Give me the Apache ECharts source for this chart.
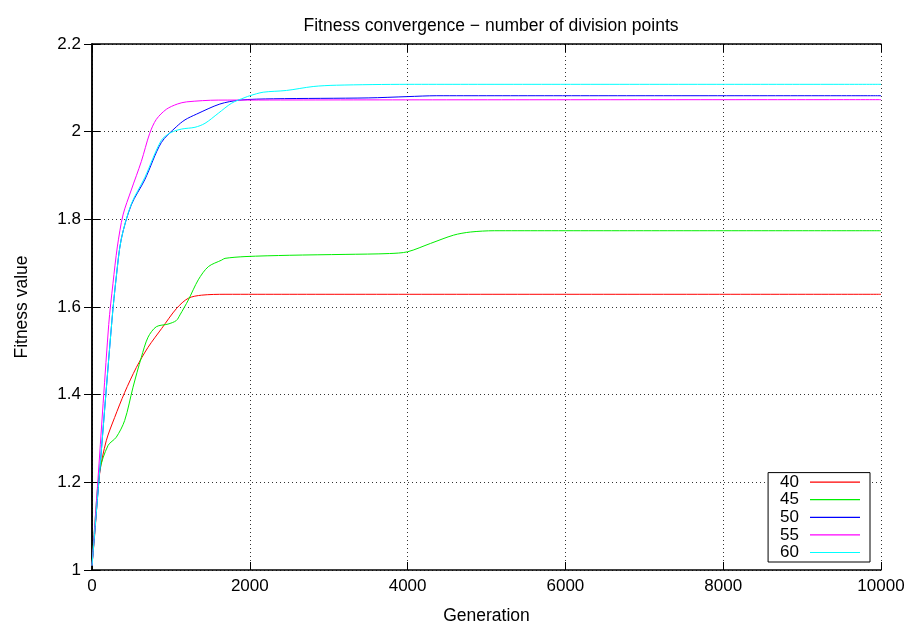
<!DOCTYPE html>
<html>
<head>
<meta charset="utf-8">
<script src="https://cdn.jsdelivr.net/npm/echarts@6/dist/echarts.min.js"></script>
<style>html,body{margin:0;padding:0;background:#fff}#c{width:911px;height:623px}</style>
</head>
<body>
<div id="c"></div>
<script>
var seriesNames = ['40', '45', '50', '55', '60'];
var xTicks = [0, 2000, 4000, 6000, 8000, 10000];
var yTicks = [1, 1.2, 1.4, 1.6, 1.8, 2, 2.2];

var gen40 = [0, 34, 97, 181, 287, 414, 562, 710, 883, 1073, 1221, 1390, 1686, 2500, 10000];
var fit40 = [1.01, 1.08, 1.22, 1.295, 1.348, 1.405, 1.462, 1.508, 1.551, 1.597, 1.620, 1.627, 1.629, 1.629, 1.629];

var gen45 = [0, 34, 97, 203, 308, 414, 520, 625, 710, 815, 963, 1068, 1115, 1221, 1347, 1474, 1643, 1686, 1939, 2500, 3207, 3772, 4000, 4290, 4584, 4795, 5100, 10000];
var fit45 = [1.01, 1.10, 1.226, 1.284, 1.303, 1.341, 1.417, 1.485, 1.531, 1.555, 1.561, 1.569, 1.582, 1.616, 1.662, 1.692, 1.707, 1.711, 1.715, 1.718, 1.720, 1.722, 1.726, 1.745, 1.764, 1.771, 1.774, 1.774];

var gen50 = [0, 86, 253, 308, 371, 498, 668, 878, 1068, 1179, 1325, 1620, 1873, 2300, 3500, 4000, 4370, 10000];
var fit50 = [1.01, 1.2, 1.57, 1.669, 1.755, 1.833, 1.89, 1.975, 2.011, 2.027, 2.040, 2.063, 2.072, 2.075, 2.077, 2.080, 2.082, 2.082];

var gen55 = [0, 73, 212, 266, 321, 393, 498, 625, 731, 815, 942, 1081, 1199, 1600, 10000];
var fit55 = [1.01, 1.2, 1.56, 1.654, 1.737, 1.81, 1.867, 1.932, 1.996, 2.028, 2.051, 2.063, 2.068, 2.072, 2.073];

var gen60 = [0, 86, 253, 308, 371, 498, 668, 878, 1000, 1137, 1305, 1432, 1601, 1770, 1939, 2000, 2170, 2465, 2803, 3100, 4000, 10000];
var fit60 = [1.01, 1.2, 1.57, 1.669, 1.755, 1.835, 1.895, 1.98, 1.998, 2.006, 2.010, 2.019, 2.042, 2.065, 2.078, 2.082, 2.090, 2.094, 2.103, 2.106, 2.108, 2.108];

var colors = ['#ff0000', '#00ee00', '#0000ff', '#ff00ff', '#00ffff'];
var gens = [gen40, gen45, gen50, gen55, gen60];
var fits = [fit40, fit45, fit50, fit55, fit60];

function pairs(g, f) { return g.map(function (x, i) { return [x, f[i]]; }); }

var FONT = 'Liberation Sans';
var series = seriesNames.map(function (n, i) {
  return {
    name: n, type: 'line', data: pairs(gens[i], fits[i]),
    showSymbol: false, smooth: 0.3,
    lineStyle: { color: colors[i], width: 1 }, itemStyle: { color: colors[i] },
    emphasis: { disabled: true }, z: 3 + i
  };
});

var chart = echarts.init(document.getElementById('c'));
chart.setOption({
  animation: false,
  backgroundColor: '#fff',
  title: {
    text: 'Fitness convergence \u2212 number of division points',
    left: 486, textAlign: 'center', top: 12,
    textStyle: { fontFamily: FONT, fontSize: 17.5, fontWeight: 'normal', color: '#000' }
  },
  grid: { left: 92, right: 30, top: 44, bottom: 53, containLabel: false, outerBoundsMode: 'none' },
  legend: {
    data: seriesNames, orient: 'vertical', right: 41, bottom: 61,
    align: 'right', icon: 'rect', itemWidth: 50, itemHeight: 1.2, itemGap: 0.6,
    borderColor: '#000', borderWidth: 1, borderRadius: 0,
    padding: [1, 10, 1, 12], backgroundColor: '#fff',
    textStyle: { fontFamily: FONT, fontSize: 17, color: '#000', lineHeight: 17, padding: [0, 6, 0, 0] },
    selectedMode: false
  },
  xAxis: [{
    type: 'value', min: 0, max: 10000, interval: 2000,
    name: 'Generation', nameLocation: 'middle', nameGap: 37,
    nameTextStyle: { fontFamily: FONT, fontSize: 17.5, color: '#000' },
    axisLine: { lineStyle: { color: '#000', width: 1.5 } },
    axisTick: { inside: true, length: 8, lineStyle: { color: '#000' } },
    axisLabel: { fontFamily: FONT, fontSize: 17, color: '#000', margin: 8,
      formatter: function (v) { return String(v); } },
    splitLine: { show: true, lineStyle: { color: '#333', type: [1, 3], width: 1 } }
  }, {
    type: 'value', min: 0, max: 10000, interval: 2000, position: 'top',
    axisLine: { show: true, lineStyle: { color: '#000', width: 1.5 } },
    axisTick: { show: true, inside: true, length: 8, lineStyle: { color: '#000' } },
    axisLabel: { show: false }, splitLine: { show: false }
  }],
  yAxis: [{
    type: 'value', min: 1, max: 2.2, interval: 0.2,
    name: 'Fitness value', nameLocation: 'middle', nameGap: 61, nameRotate: 90,
    nameTextStyle: { fontFamily: FONT, fontSize: 17.5, color: '#000' },
    axisLine: { show: true, lineStyle: { color: '#000', width: 1.5 } },
    axisTick: { show: true, inside: true, length: 8, lineStyle: { color: '#000' } },
    axisLabel: {
      fontFamily: FONT, fontSize: 17, color: '#000', margin: 11,
      formatter: function (v) { return String(+v.toFixed(1)); }
    },
    splitLine: { show: true, lineStyle: { color: '#333', type: [1, 3], width: 1 } }
  }, {
    type: 'value', min: 1, max: 2.2, interval: 0.2, position: 'right',
    axisLine: { show: true, lineStyle: { color: '#000', width: 1.5 } },
    axisTick: { show: true, inside: true, length: 8, lineStyle: { color: '#000' } },
    axisLabel: { show: false }, splitLine: { show: false }
  }],
  series: series
});
</script>
</body>
</html>
